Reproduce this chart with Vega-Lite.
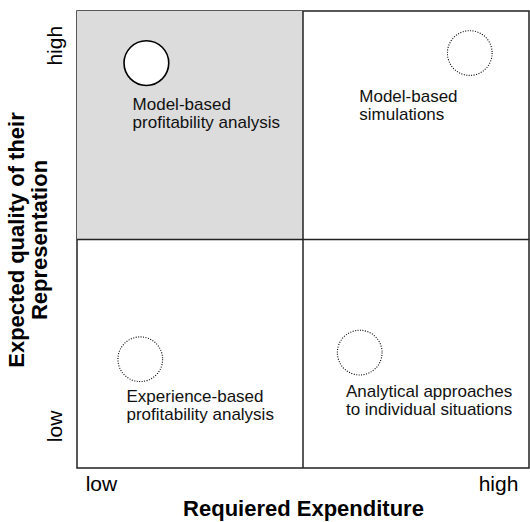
{
  "$schema": "https://vega.github.io/schema/vega-lite/v6.json",
  "width": 452,
  "height": 457,
  "autosize": "none",
  "padding": {"left": 77, "top": 11, "right": 1, "bottom": 54},
  "config": {
    "font": "Liberation Sans",
    "view": {"stroke": "#222", "strokeWidth": 1.5},
    "axis": {"grid": false, "domain": false, "ticks": false, "labelColor": "#000", "titleColor": "#000", "labelFont": "Liberation Sans", "titleFont": "Liberation Sans"}
  },
  "datasets": {
    "quad": [{"x0": 0, "x1": 1, "y0": 1, "y1": 2}],
    "circles": [
      {"x": 0.307, "y": 1.772, "kind": "solid"},
      {"x": 1.738, "y": 1.816, "kind": "dotted"},
      {"x": 0.28, "y": 0.476, "kind": "dotted"},
      {"x": 1.251, "y": 0.505, "kind": "dotted"}
    ],
    "labels": [
      {"x": 0.246, "y": 1.567, "text": ["Model-based", "profitability analysis"]},
      {"x": 1.249, "y": 1.603, "text": ["Model-based", "simulations"]},
      {"x": 0.219, "y": 0.29, "text": ["Experience-based", "profitability analysis"]},
      {"x": 1.19, "y": 0.312, "text": ["Analytical approaches", "to individual situations"]}
    ],
    "dividers": [{"v": 1}]
  },
  "layer": [
    {
      "data": {"name": "quad"},
      "mark": {"type": "rect", "fill": "#dcdcdc"},
      "encoding": {
        "x": {"field": "x0", "type": "quantitative", "scale": {"domain": [0, 2], "nice": false, "zero": false},
          "axis": {"values": [0.106, 1.863], "labelExpr": "datum.value < 1 ? 'low' : 'high'", "labelFontSize": 21, "labelPadding": 5, "labelFlush": false, "title": "Requiered Expenditure", "titleFontSize": 22, "titleFontWeight": "bold", "titlePadding": 4}},
        "x2": {"field": "x1"},
        "y": {"field": "y0", "type": "quantitative", "scale": {"domain": [0, 2], "nice": false, "zero": false},
          "axis": {"values": [0.184, 1.85], "labelExpr": "datum.value < 1 ? 'low' : 'high'", "labelFontSize": 21, "labelAngle": -90, "labelAlign": "center", "labelBaseline": "bottom", "labelPadding": 12, "labelFlush": false, "title": ["Expected quality of their", "Representation"], "titleFontSize": 22, "titleFontWeight": "bold", "titlePadding": -7, "titleLineHeight": 23}},
        "y2": {"field": "y1"}
      }
    },
    {
      "data": {"name": "dividers"},
      "mark": {"type": "rule", "color": "#222", "strokeWidth": 1.5},
      "encoding": {"x": {"field": "v", "type": "quantitative"}}
    },
    {
      "data": {"name": "dividers"},
      "mark": {"type": "rule", "color": "#222", "strokeWidth": 1.5},
      "encoding": {"y": {"field": "v", "type": "quantitative"}}
    },
    {
      "data": {"name": "circles"},
      "transform": [{"filter": "datum.kind == 'solid'"}],
      "mark": {"type": "point", "shape": "circle", "filled": false, "fill": "#fff", "fillOpacity": 1, "stroke": "#000", "strokeWidth": 1.6, "opacity": 1, "size": 2000},
      "encoding": {
        "x": {"field": "x", "type": "quantitative"},
        "y": {"field": "y", "type": "quantitative"}
      }
    },
    {
      "data": {"name": "circles"},
      "transform": [{"filter": "datum.kind == 'dotted'"}],
      "mark": {"type": "point", "shape": "circle", "filled": false, "fill": "#fff", "fillOpacity": 1, "stroke": "#000", "strokeWidth": 1.1, "strokeDash": [1, 1.5], "opacity": 1, "size": 2000},
      "encoding": {
        "x": {"field": "x", "type": "quantitative"},
        "y": {"field": "y", "type": "quantitative"}
      }
    },
    {
      "data": {"name": "labels"},
      "mark": {"type": "text", "align": "left", "baseline": "alphabetic", "fontSize": 17, "lineHeight": 18, "color": "#111", "font": "Liberation Sans"},
      "encoding": {
        "x": {"field": "x", "type": "quantitative"},
        "y": {"field": "y", "type": "quantitative"},
        "text": {"field": "text"}
      }
    }
  ]
}
